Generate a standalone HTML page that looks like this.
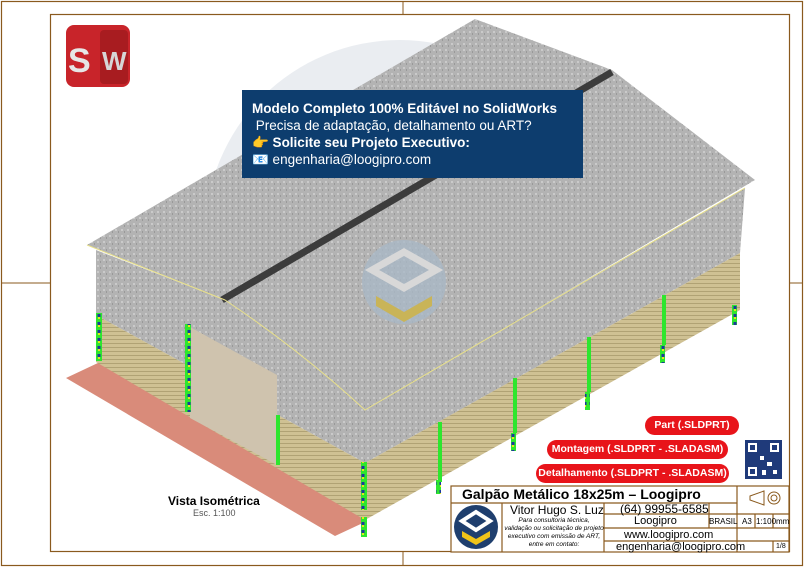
<!DOCTYPE html>
<html><head><meta charset="utf-8"><style>
body{margin:0;width:806px;height:568px;overflow:hidden;background:#fff;font-family:"Liberation Sans",sans-serif}
svg{position:absolute;left:0;top:0}
.t{position:absolute;white-space:nowrap}
.pill{position:absolute;background:#e8141a;color:#fff;font-weight:bold;font-size:10.5px;border-radius:10px;text-align:center;line-height:19px;white-space:nowrap;overflow:hidden}
</style></head><body>
<svg width="806" height="568" viewBox="0 0 806 568">
<defs>
<pattern id="rf" width="6" height="6" patternUnits="userSpaceOnUse"><rect width="6" height="6" fill="#b3b3b3"/><rect x="1" y="1" width="2" height="2" fill="#cacaca"/><rect x="4" y="3" width="1" height="2" fill="#999"/></pattern>
<pattern id="br" width="10" height="4" patternUnits="userSpaceOnUse"><rect width="10" height="4" fill="#cfc193"/><rect y="3" width="10" height="1" fill="#b0a274"/></pattern>
<pattern id="gc" width="6" height="8" patternUnits="userSpaceOnUse"><rect width="6" height="8" fill="#2ee62e"/><rect x="1.5" y="2" width="3" height="3" fill="#1a3a9a"/><rect x="2" y="5" width="2" height="2" fill="#e5e51a"/></pattern>
</defs>
<rect x="1.5" y="1.5" width="801" height="564" fill="none" stroke="#8a5a1e" stroke-width="1.2"/>
<rect x="50.5" y="14.5" width="739" height="537" fill="none" stroke="#8a5a1e" stroke-width="1.2"/>
<line x1="403" y1="2" x2="403" y2="14" stroke="#8a5a1e"/><line x1="2" y1="283" x2="50" y2="283" stroke="#8a5a1e"/><line x1="790" y1="283" x2="802" y2="283" stroke="#8a5a1e"/><line x1="403" y1="552" x2="403" y2="565" stroke="#8a5a1e"/>
<circle cx="400" cy="235" r="195" fill="#eaedf1"/>
<polygon points="66,378 100,362 365,512 365,522 335,536" fill="#d98b7a"/>
<polygon points="365,408 745,188 740,253 365,463" fill="url(#rf)"/>
<polygon points="365,463 740,253 740,310 365,520" fill="url(#br)"/>
<path d="M96,250 L225,300 Q300,350 365,408 L365,463 L96,315 Z" fill="url(#rf)"/>
<polygon points="96,315 365,463 365,520 96,362" fill="url(#br)"/>
<polygon points="190,327 277,375 277,465 190,418" fill="#cfc3ae"/>
<path d="M87,245 L475,19 L612,70 L755,180 L365,410 Q300,350 225,300 Z" fill="url(#rf)"/>
<line x1="222" y1="300" x2="612" y2="72" stroke="#3c3c3c" stroke-width="7"/>
<path d="M87,245 L225,300 Q300,350 365,410 L745,188" fill="none" stroke="#e8e08a" stroke-width="1"/>
<circle cx="404" cy="282" r="42" fill="#a9b8c6" opacity="0.8"/>
<polygon points="404,252 436,270 404,288 372,270" fill="none" stroke="#d8d8d8" stroke-width="7"/>
<polygon points="376,296 404,312 432,296 432,306 404,322 376,306" fill="#c9b458"/>
<rect x="96" y="313" width="6" height="48" fill="url(#gc)"/>
<rect x="185" y="324" width="6" height="58" fill="url(#gc)"/><rect x="185" y="362" width="6" height="50" fill="url(#gc)"/>
<rect x="276" y="415" width="4" height="50" fill="#2ee62e"/>
<rect x="361" y="462" width="6" height="48" fill="url(#gc)"/><rect x="361" y="517" width="6" height="20" fill="url(#gc)"/>
<rect x="438" y="422" width="4" height="60" fill="#2ee62e"/><rect x="436" y="480" width="5" height="14" fill="url(#gc)"/>
<rect x="513" y="378" width="4" height="55" fill="#2ee62e"/><rect x="511" y="433" width="5" height="18" fill="url(#gc)"/>
<rect x="587" y="337" width="4" height="55" fill="#2ee62e"/><rect x="585" y="392" width="5" height="18" fill="url(#gc)"/>
<rect x="662" y="295" width="4" height="50" fill="#2ee62e"/><rect x="660" y="345" width="5" height="18" fill="url(#gc)"/>
<rect x="732" y="305" width="5" height="20" fill="url(#gc)"/>
<rect x="66" y="25" width="64" height="62" rx="8" fill="#c8242a"/>
<rect x="100" y="30" width="28" height="54" rx="4" fill="#a81c20"/>
<text x="68" y="72" font-family="Liberation Sans" font-weight="bold" font-size="34" fill="#e6e6e6">S</text>
<text x="102" y="70" font-family="Liberation Sans" font-weight="bold" font-size="26" fill="#d6d6d6">W</text>
<rect x="745" y="440" width="37" height="39" fill="#1f3a7a"/>
<rect x="748" y="443" width="9" height="9" fill="#fff"/><rect x="750" y="445" width="5" height="5" fill="#1f3a7a"/>
<rect x="770" y="443" width="9" height="9" fill="#fff"/><rect x="772" y="445" width="5" height="5" fill="#1f3a7a"/>
<rect x="748" y="467" width="9" height="9" fill="#fff"/><rect x="750" y="469" width="5" height="5" fill="#1f3a7a"/>
<rect x="760" y="456" width="4" height="4" fill="#fff"/><rect x="767" y="462" width="5" height="4" fill="#fff"/><rect x="762" y="470" width="4" height="5" fill="#fff"/><rect x="773" y="470" width="4" height="4" fill="#fff"/>
<g stroke="#8a5a1e" stroke-width="1.2" fill="none">
<rect x="451" y="486" width="338" height="66" fill="#fff"/>
<line x1="451" y1="503" x2="737" y2="503"/>
<line x1="737" y1="486" x2="737" y2="552"/>
<line x1="502" y1="503" x2="502" y2="552"/>
<line x1="604" y1="503" x2="604" y2="552"/>
<line x1="709" y1="503" x2="709" y2="528"/>
<line x1="604" y1="514" x2="789" y2="514"/>
<line x1="604" y1="528" x2="789" y2="528"/>
<line x1="604" y1="541" x2="737" y2="541"/>
<line x1="737" y1="541" x2="789" y2="541"/>
<line x1="755" y1="514" x2="755" y2="528"/><line x1="773" y1="514" x2="773" y2="528"/><line x1="773" y1="541" x2="773" y2="552"/>
</g>
<path d="M750,496 L764,491 L764,505 L750,500 Z" fill="none" stroke="#8a5a1e"/>
<circle cx="774" cy="498" r="6" fill="none" stroke="#8a5a1e"/><circle cx="774" cy="498" r="3" fill="none" stroke="#8a5a1e"/>
<circle cx="476" cy="527" r="22" fill="#1f3f6e"/>
<polygon points="476,512 490,521 476,530 462,521" fill="none" stroke="#fff" stroke-width="4"/>
<polygon points="462,531 476,539 490,531 490,537 476,545 462,537" fill="#f0c419"/>
</svg>
<div class="t" style="left:242px;top:90px;width:341px;height:88px;background:#0d3d6e"></div>
<div class="t" style="left:252px;top:100px;color:#fff;font-size:13.5px;line-height:17px"><b>Modelo Completo 100% Editável no SolidWorks</b><br>&nbsp;Precisa de adaptação, detalhamento ou ART?<br><b>👉 Solicite seu Projeto Executivo:</b><br>📧 engenharia@loogipro.com</div>
<div class="pill" style="left:645px;top:416px;width:94px">Part (.SLDPRT)</div>
<div class="pill" style="left:547px;top:440px;width:181px">Montagem (.SLDPRT - .SLADASM)</div>
<div class="pill" style="left:536px;top:464px;width:193px">Detalhamento (.SLDPRT - .SLADASM)</div>
<div class="t" style="left:168px;top:494px;font-size:12px;font-weight:bold">Vista Isométrica</div>
<div class="t" style="left:193px;top:508px;font-size:9px;color:#555">Esc. 1:100</div>
<div class="t" style="left:462px;top:486px;font-size:14px;font-weight:bold">Galpão Metálico 18x25m – Loogipro</div>
<div class="t" style="left:510px;top:503px;font-size:12px;width:92px;text-align:right">Vitor Hugo S. Luz</div>
<div class="t" style="left:504px;top:517px;width:100px;font-size:6.5px;font-style:italic;text-align:center;line-height:8px;white-space:normal">Para consultoria técnica, validação ou solicitação de projeto executivo com emissão de ART, entre em contato:</div>
<div class="t" style="left:620px;top:502px;font-size:12px">(64) 99955-6585</div>
<div class="t" style="left:634px;top:515px;font-size:11px">Loogipro</div>
<div class="t" style="left:709px;top:517px;font-size:8px">BRASIL</div>
<div class="t" style="left:742px;top:517px;font-size:8px">A3</div>
<div class="t" style="left:756px;top:517px;font-size:8px">1:100</div>
<div class="t" style="left:776px;top:517px;font-size:8px">mm</div>
<div class="t" style="left:624px;top:529px;font-size:11px">www.loogipro.com</div>
<div class="t" style="left:616px;top:541px;font-size:11px">engenharia@loogipro.com</div>
<div class="t" style="left:776px;top:543px;font-size:7px">1/8</div>
</body></html>
